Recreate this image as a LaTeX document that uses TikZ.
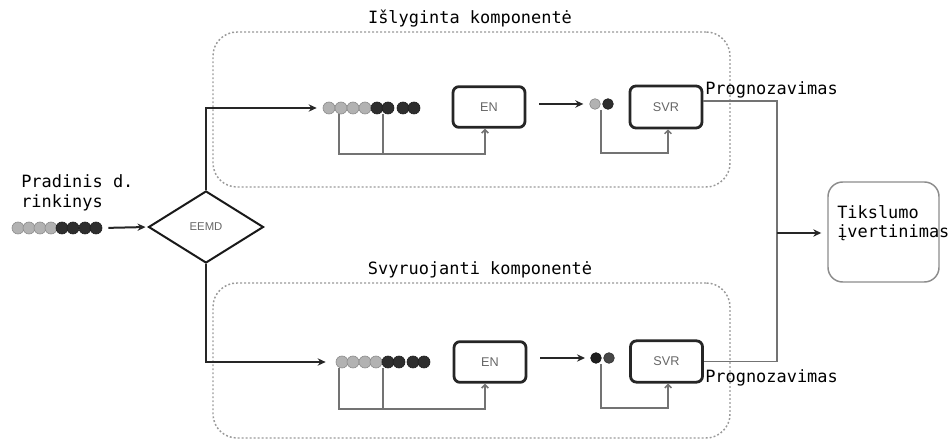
\documentclass[tikz,border=0pt]{standalone}
\usepackage{fontspec}
\setmonofont{DejaVu Sans Mono}
\newfontfamily\labfont{Liberation Sans}
\usetikzlibrary{shapes.geometric,arrows.meta}
\tikzset{
  mono/.style={font=\ttfamily\fontsize{12.7}{15}\selectfont, inner sep=0pt, text=black},
  procbox/.style={draw=black!85, line width=2.1pt, rounded corners=4.5pt, minimum width=54pt, minimum height=30.5pt, inner sep=0pt, font=\labfont\fontsize{9.5}{11}\selectfont, text=black!60},
  groupbox/.style={draw=black!40, line width=1.1pt, dash pattern=on 1.4pt off 1.6pt, rounded corners=18pt, minimum width=517*0.75pt, minimum height=155*0.75pt, inner sep=0pt},
  flow/.style={draw=black!85, line width=1.5pt, -{Stealth[length=6pt,width=5.5pt]}},
  flowline/.style={draw=black!80, line width=1.5pt},
  outline/.style={draw=black!55, line width=1.1pt},
  fb/.style={draw=black!55, line width=1.1pt, -{Straight Barb[length=2.5pt,width=5pt]}},
  lc/.style={circle, fill=black!30, draw=black!45, line width=0.5pt, minimum size=9pt, inner sep=0pt},
  dc/.style={circle, fill=black!82, draw=black!88, line width=0.5pt, minimum size=9pt, inner sep=0pt},
  sc/.style={circle, minimum size=8pt, inner sep=0pt, line width=0.5pt},
}
\begin{document}
\begin{tikzpicture}[x=0.75pt,y=-0.75pt]
\useasboundingbox (0,0) rectangle (952,441);

% group boxes
\node[groupbox] (g1) at (471.5,109.5) {};
\node[groupbox] (g2) at (471.5,360.5) {};
\node[mono] (g1t) at (470,19) {Išlyginta komponentė};
\node[mono] (g2t) at (480,270) {Svyruojanti komponentė};

% input
\node[mono, anchor=west, align=left] (inp) at (21,193) {Pradinis d.\\[-0.3pt]rinkinys};
\foreach \i/\x in {1/18,2/29,3/40,4/51}{\node[lc] (p\i) at (\x,228) {};}
\foreach \i/\x in {5/62,6/73,7/85,8/96}{\node[dc] (p\i) at (\x,228) {};}

% EEMD diamond
\node[diamond, draw=black!90, line width=1.5pt, minimum width=115*0.75pt, minimum height=72*0.75pt, inner sep=0pt,
      font=\labfont\fontsize{8.5}{10}\selectfont, text=black!60] (eemd) at (206,227) {EEMD};
\draw[flow, shorten <=4.5pt, shorten >=1.5pt] (p8.east) -- (eemd.west);

% top row
\foreach \i/\x in {1/329,2/341,3/353,4/365}{\node[lc] (t\i) at (\x,108) {};}
\foreach \i/\x in {5/377,6/388,7/403,8/414}{\node[dc] (t\i) at (\x,108) {};}
\node[procbox] (en1) at (489,107) {EN};
\node[sc, fill=black!30, draw=black!45] (s1) at (595,104) {};
\node[sc, fill=black!82, draw=black!88] (s2) at (608,104) {};
\node[procbox, minimum height=31.5pt] (svr1) at (666,107) {SVR};

% bottom row
\foreach \i/\x in {1/342,2/353,3/365,4/376}{\node[lc] (b\i) at (\x,362) {};}
\foreach \i/\x in {5/388,6/399,7/413,8/424}{\node[dc] (b\i) at (\x,362) {};}
\node[procbox] (en2) at (490,362) {EN};
\node[sc, fill=black!88, draw=black!92] (r1) at (596,358) {};
\node[sc, fill=black!72, draw=black!80] (r2) at (609,358) {};
\node[procbox, minimum height=31pt] (svr2) at (666.5,361.5) {SVR};

% diamond to rows
\draw[flow, shorten >=4.5pt] (eemd.north) |- (t1.west);
\draw[flow, shorten >=7.5pt] (eemd.south) |- (b1.west);

% EN -> components
\draw[flow, shorten <=9.75pt, shorten >=4.5pt] (en1.east |- s1) -- (s1.west);
\draw[flow, shorten <=9.75pt, shorten >=4pt] (en2.east |- r1) -- (r1.west);

% feedback loops top
\coordinate (fa1) at (339,114);
\coordinate (fa2) at (383,114);
\coordinate (fay) at (0,154);
\draw[fb] (fa1) -- (fa1 |- fay) -| ([xshift=-3pt]en1.south);
\draw[outline] (fa2) -- (fa2 |- fay);
\coordinate (fs1) at (601,110);
\coordinate (fsy) at (0,153);
\draw[fb] (fs1) -- (fs1 |- fsy) -| ([xshift=1.5pt]svr1.south);

% feedback loops bottom
\coordinate (fc1) at (339,368);
\coordinate (fc2) at (383,368);
\coordinate (fcy) at (0,409);
\draw[fb] (fc1) -- (fc1 |- fcy) -| ([xshift=-3.75pt]en2.south);
\draw[outline] (fc2) -- (fc2 |- fcy);
\coordinate (fr1) at (601,364);
\coordinate (fry) at (0,408);
\draw[fb] (fr1) -- (fr1 |- fry) -| ([xshift=1.2pt]svr2.south);

% outputs
\node[mono, anchor=west] (pr1) at (705,90) {Prognozavimas};
\node[mono, anchor=west] (pr2) at (705,378) {Prognozavimas};
\coordinate (jx) at (777,233);
\coordinate (jtop) at (777,101);
\draw[outline] ([yshift=4.5pt]svr1.east) -- (jtop) -- (jx |- svr2.east) -- (svr2.east);

% accuracy box
\node[draw=black!45, line width=1.1pt, rounded corners=11pt, minimum width=111*0.75pt, minimum height=100*0.75pt, inner sep=0pt] (tik) at (883.5,232) {};
\node[mono, anchor=west, align=left] (tikt) at (837,223) {Tikslumo\\[-0.3pt]įvertinimas};
\draw[flow, shorten >=4.5pt] (jx) -- (jx -| tik.west);
\end{tikzpicture}
\end{document}
